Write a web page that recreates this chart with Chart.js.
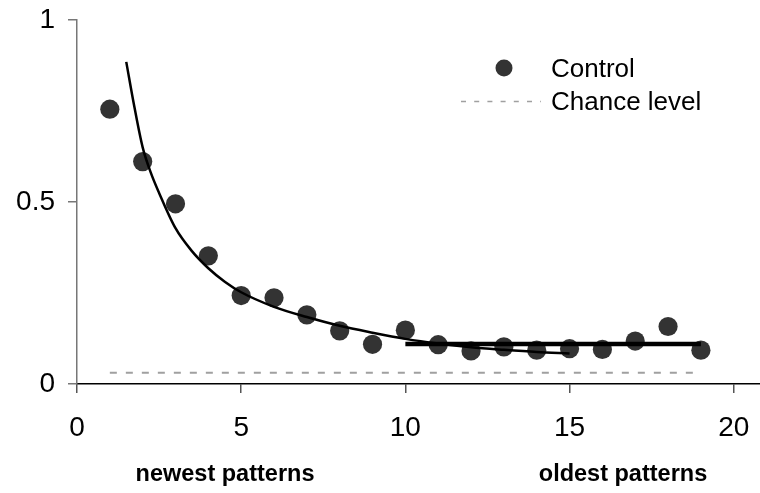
<!DOCTYPE html>
<html>
<head>
<meta charset="utf-8">
<script src="https://cdn.jsdelivr.net/npm/chart.js@4/dist/chart.umd.min.js"></script>
<style>
  html, body { margin: 0; padding: 0; background: #fff; }
  #wrap { width: 760px; height: 493px; position: relative; }
</style>
</head>
<body>
<div id="wrap"><canvas id="c"></canvas></div>
<script>
// ---- data ----
const controlX = [1, 2, 3, 4, 5, 6, 7, 8, 9, 10, 11, 12, 13, 14, 15, 16, 17, 18, 19];
const controlY = [0.755, 0.611, 0.495, 0.352, 0.243, 0.237, 0.190, 0.146, 0.109, 0.148,
                  0.108, 0.091, 0.102, 0.093, 0.097, 0.095, 0.118, 0.158, 0.093];

const fitX = [1.5, 1.75, 2, 2.25, 2.5, 3, 3.5, 4, 4.5, 5, 6, 7, 8, 9, 10, 11, 12, 13, 14, 15];
const fitY = [0.885, 0.76, 0.65, 0.58, 0.525, 0.428, 0.365, 0.318, 0.281, 0.252,
              0.212, 0.184, 0.160, 0.141, 0.124, 0.111, 0.101, 0.094, 0.088, 0.084];

const plateauX = [10, 19];
const plateauY = [0.11, 0.11];

const chanceX = [1, 19];
const chanceY = [0.031, 0.031];

const xTicks = [0, 5, 10, 15, 20];
const yTicks = [0, 0.5, 1];
const yTickLabels = ['0', '0.5', '1'];

const legendLabels = ['Control', 'Chance level'];
const axisNotes = ['newest patterns', 'oldest patterns'];

// ---- build ----
const pts = (xs, ys) => xs.map((x, i) => ({ x: x, y: ys[i] }));

const overlay = {
  id: 'overlay',
  afterDraw(chart) {
    const ctx = chart.ctx;
    ctx.save();
    // legend
    ctx.fillStyle = '#333333';
    ctx.beginPath();
    ctx.arc(504, 68, 8.5, 0, Math.PI * 2);
    ctx.fill();
    ctx.strokeStyle = '#a0a0a0';
    ctx.lineWidth = 1.6;
    ctx.setLineDash([5, 8.2]);
    ctx.beginPath();
    ctx.moveTo(461, 101.5);
    ctx.lineTo(541, 101.5);
    ctx.stroke();
    ctx.setLineDash([]);
    ctx.fillStyle = '#000';
    ctx.font = '26px "Liberation Sans", Arial, sans-serif';
    ctx.textAlign = 'left';
    ctx.textBaseline = 'alphabetic';
    ctx.fillText(legendLabels[0], 551, 77);
    ctx.fillText(legendLabels[1], 551, 110);
    // notes under the axis
    ctx.font = 'bold 23.5px "Liberation Sans", Arial, sans-serif';
    ctx.textAlign = 'center';
    ctx.fillText(axisNotes[0], 225, 481);
    ctx.fillText(axisNotes[1], 623, 481);
    ctx.restore();
  }
};

new Chart(document.getElementById('c'), {
  type: 'scatter',
  data: {
    datasets: [
      {
        label: 'Control',
        data: pts(controlX, controlY),
        showLine: false,
        pointRadius: 9.6,
        pointHoverRadius: 9.6,
        pointBackgroundColor: '#333333',
        pointBorderWidth: 0,
        order: 10
      },
      {
        label: 'fit',
        data: pts(fitX, fitY),
        showLine: true,
        pointRadius: 0,
        borderColor: '#000',
        borderWidth: 2.5,
        cubicInterpolationMode: 'monotone',
        order: 2
      },
      {
        label: 'plateau',
        data: pts(plateauX, plateauY),
        showLine: true,
        pointRadius: 0,
        borderColor: '#000',
        borderWidth: 4.5,
        order: 1
      },
      {
        label: 'Chance level',
        data: pts(chanceX, chanceY),
        showLine: true,
        pointRadius: 0,
        borderColor: '#a0a0a0',
        borderWidth: 2,
        borderDash: [7, 9],
        order: 3
      }
    ]
  },
  options: {
    responsive: true,
    maintainAspectRatio: false,
    animation: false,
    events: [],
    layout: { autoPadding: false, padding: { top: 20, right: 0, bottom: 0, left: 0 } },
    plugins: { legend: { display: false }, tooltip: { enabled: false } },
    scales: {
      x: {
        type: 'linear',
        min: 0,
        max: 20.8,
        afterBuildTicks: (s) => { s.ticks = xTicks.map(v => ({ value: v })); },
        afterFit: (s) => { s.height = 109; s.paddingLeft = 0; s.paddingRight = 0; },
        border: { display: true, color: '#000', width: 1.5 },
        grid: { drawOnChartArea: false, drawTicks: true, tickLength: 9, color: '#555', lineWidth: 1.5 },
        ticks: {
          padding: 18,
          color: '#000',
          font: { family: '"Liberation Sans", Arial, sans-serif', size: 28 },
          maxRotation: 0,
          autoSkip: false
        }
      },
      y: {
        type: 'linear',
        min: 0,
        max: 1,
        afterBuildTicks: (s) => { s.ticks = yTicks.map(v => ({ value: v })); },
        afterFit: (s) => { s.width = 77; s.paddingTop = 0; s.paddingBottom = 0; },
        border: { display: true, color: '#777', width: 1.5 },
        grid: { drawOnChartArea: false, drawTicks: true, tickLength: 9, color: '#777', lineWidth: 1.5 },
        ticks: {
          padding: 13,
          color: '#000',
          font: { family: '"Liberation Sans", Arial, sans-serif', size: 28 },
          callback: (v) => { const i = yTicks.indexOf(v); return i >= 0 ? yTickLabels[i] : ''; }
        }
      }
    }
  },
  plugins: [overlay]
});
</script>
</body>
</html>
